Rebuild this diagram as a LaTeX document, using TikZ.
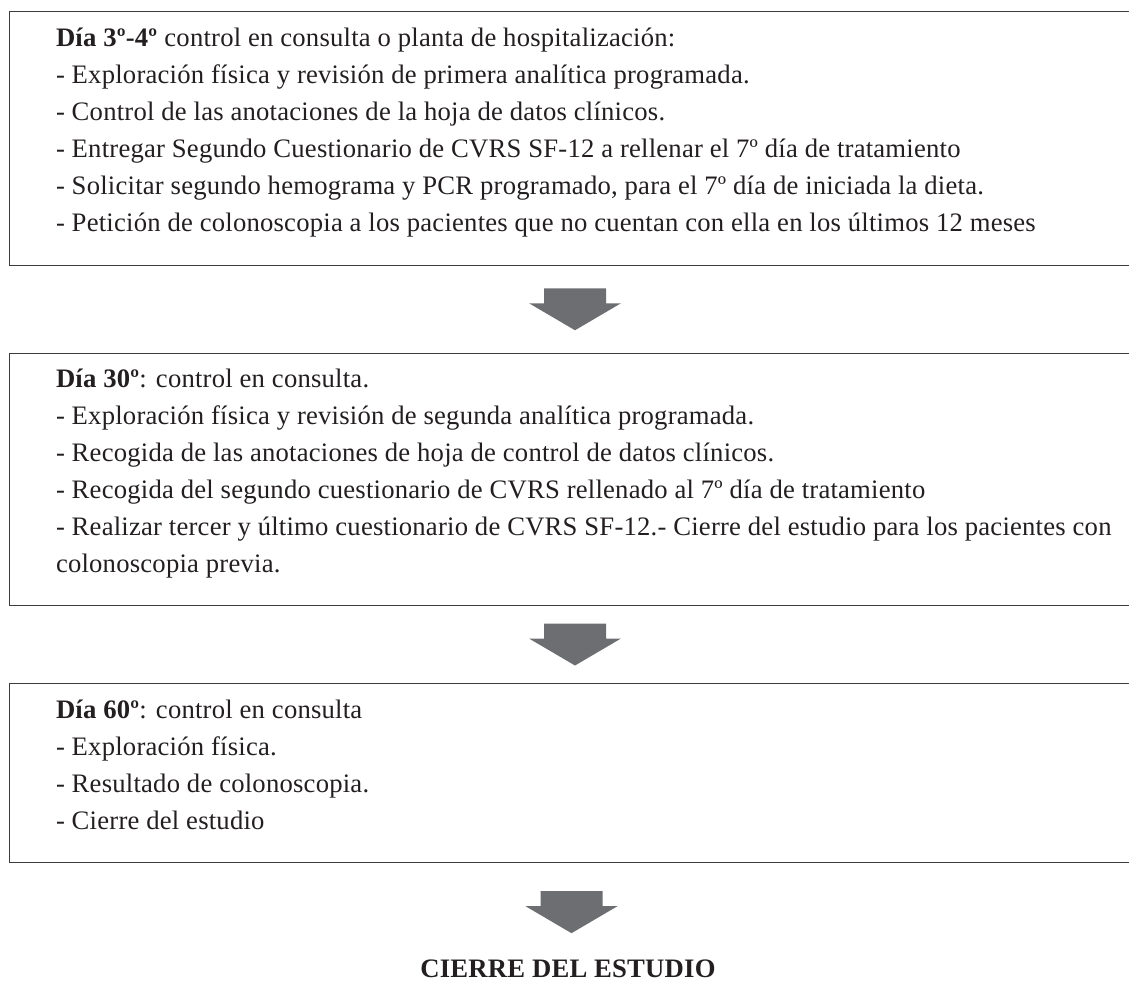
\documentclass[tikz,border=0pt]{standalone}
\usepackage{fontspec}
\setmainfont{Liberation Serif}[LetterSpace=0.8]
\usetikzlibrary{calc,fit}
\definecolor{rulecol}{HTML}{3c3c3c}
\definecolor{arrowgray}{HTML}{6d6e71}
\definecolor{ink}{HTML}{231f20}

\begin{document}
\begin{tikzpicture}[x=0.75pt,y=-0.75pt,
  linetext/.style={anchor=base west, inner sep=0pt, text=ink, font=\fontsize{20}{24}\selectfont},
  boxarea/.style={inner sep=0pt, draw=none},
  frame/.style={draw=rulecol, line width=1.1pt},
  bigarrow/.style={fill=arrowgray, draw=none},
  closing/.style={anchor=base, inner sep=0pt, text=ink, font=\fontsize{20}{24}\selectfont\bfseries}]
\useasboundingbox (0,0) rectangle (1129,983);

% box outlines (the right side runs past the page edge)
\coordinate (b1nw) at (10,12);    \coordinate (b1se) at (1140,265);
\coordinate (b2nw) at (10,353.5); \coordinate (b2se) at (1140,605);
\coordinate (b3nw) at (10,684);   \coordinate (b3se) at (1140,862);
\node[boxarea, fit=(b1nw)(b1se)] (b1) {};
\node[boxarea, fit=(b2nw)(b2se)] (b2) {};
\node[boxarea, fit=(b3nw)(b3se)] (b3) {};

\foreach \b in {b1,b2,b3}{
  \draw[frame] (\b.north east) -- (\b.north west) -- (\b.south west) -- (\b.south east);
}

% text of the first box
\def\pitch{37}
\node[linetext] (t11) at ($(b1.north west)+(46,34.5)$) {\textbf{Día 3º-4º} control en consulta o planta de hospitalización:};
\node[linetext] (t12) at ($(t11.base west)+(0,\pitch)$) {- Exploración física y revisión de primera analítica programada.};
\node[linetext] (t13) at ($(t12.base west)+(0,\pitch)$) {- Control de las anotaciones de la hoja de datos clínicos.};
\node[linetext] (t14) at ($(t13.base west)+(0,\pitch)$) {- Entregar Segundo Cuestionario de CVRS SF-12 a rellenar el 7º día de tratamiento};
\node[linetext] (t15) at ($(t14.base west)+(0,\pitch)$) {- Solicitar segundo hemograma y PCR programado, para el 7º día de iniciada la dieta.};
\node[linetext] (t16) at ($(t15.base west)+(0,\pitch)$) {- Petición de colonoscopia a los pacientes que no cuentan con ella en los últimos 12 meses};

% text of the second box
\node[linetext] (t21) at ($(b2.north west)+(46,34.5)$) {\textbf{Día 30º}: control en consulta.};
\node[linetext] (t22) at ($(t21.base west)+(0,\pitch)$) {- Exploración física y revisión de segunda analítica programada.};
\node[linetext] (t23) at ($(t22.base west)+(0,\pitch)$) {- Recogida de las anotaciones de hoja de control de datos clínicos.};
\node[linetext] (t24) at ($(t23.base west)+(0,\pitch)$) {- Recogida del segundo cuestionario de CVRS rellenado al 7º día de tratamiento};
\node[linetext] (t25) at ($(t24.base west)+(0,\pitch)$) {- Realizar tercer y último cuestionario de CVRS SF-12.- Cierre del estudio para los pacientes con};
\node[linetext] (t26) at ($(t25.base west)+(0,\pitch)$) {colonoscopia previa.};

% text of the third box
\node[linetext] (t31) at ($(b3.north west)+(46,34.5)$) {\textbf{Día 60º}: control en consulta};
\node[linetext] (t32) at ($(t31.base west)+(0,\pitch)$) {- Exploración física.};
\node[linetext] (t33) at ($(t32.base west)+(0,\pitch)$) {- Resultado de colonoscopia.};
\node[linetext] (t34) at ($(t33.base west)+(0,\pitch)$) {- Cierre del estudio};

% closing label
\node[closing] (fin) at (568,977) {CIERRE DEL ESTUDIO};

% block arrows between the stages
\coordinate (a1) at ($(b1.south)!0.5!(b2.north)$);
\coordinate (a2) at ($(b2.south)!0.5!(b3.north)$);
\coordinate (a3) at ($(b3.south)!0.5!(fin.north)+(0,1.5)$);
\foreach \a in {a1,a2,a3}{
  \fill[bigarrow] ($(\a)+(-31,-21)$) -- ($(\a)+(31,-21)$) -- ($(\a)+(31,-6)$) -- ($(\a)+(46,-6)$)
    -- ($(\a)+(0,21)$) -- ($(\a)+(-46,-6)$) -- ($(\a)+(-31,-6)$) -- cycle;
}
\end{tikzpicture}
\end{document}
